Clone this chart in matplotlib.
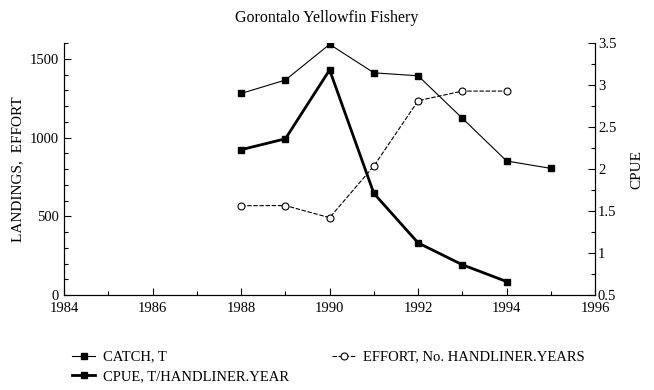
import matplotlib

matplotlib.use("agg")
import matplotlib.pyplot as plt
from matplotlib.ticker import MultipleLocator

plt.rcParams["font.family"] = ["Liberation Serif", "DejaVu Serif"]

# data
years = [1988, 1989, 1990, 1991, 1992, 1993, 1994, 1995]
catch_t = [1280, 1365, 1592, 1411, 1392, 1122, 851, 804]
effort_years = [1988, 1989, 1990, 1991, 1992, 1993, 1994]
effort = [567, 568, 491, 819, 1234, 1295, 1295]
cpue_years = [1988, 1989, 1990, 1991, 1992, 1993, 1994]
cpue = [2.23, 2.36, 3.18, 1.71, 1.12, 0.86, 0.66]

fig = plt.figure(figsize=(6.54, 3.90), dpi=100)
ax = fig.add_axes([0.098, 0.2436, 0.812, 0.646])
ax2 = ax.twinx()

l_catch, = ax.plot(years, catch_t, color="black", lw=0.8, marker="s",
                   markersize=5, markerfacecolor="black")
l_effort, = ax.plot(effort_years, effort, color="black", lw=0.8, ls=(0, (4, 1.5)),
                    marker="o", markersize=5, markerfacecolor="white",
                    markeredgewidth=0.8)
l_cpue, = ax2.plot(cpue_years, cpue, color="black", lw=2.0, marker="s",
                   markersize=5, markerfacecolor="black")

ax.set_xlim(1984, 1996)
ax.set_ylim(0, 1600)
ax2.set_ylim(0.5, 3.5)

ax.xaxis.set_major_locator(MultipleLocator(2))
ax.xaxis.set_minor_locator(MultipleLocator(1))
ax.yaxis.set_major_locator(MultipleLocator(500))
ax.yaxis.set_minor_locator(MultipleLocator(100))
ax2.yaxis.set_major_locator(MultipleLocator(0.5))
ax2.yaxis.set_minor_locator(MultipleLocator(0.25))
ax2.yaxis.set_major_formatter(plt.FuncFormatter(lambda v, p: f"{v:g}"))

for a in (ax, ax2):
    a.spines["top"].set_visible(False)
    a.tick_params(which="both", direction="in", labelsize=10.5, width=0.8)
    a.tick_params(which="major", length=5)
    a.tick_params(which="minor", length=3)
ax.tick_params(axis="x", pad=5)
ax2.tick_params(axis="y", pad=2)

ax.set_ylabel("LANDINGS,  EFFORT", fontsize=11, labelpad=4)
ax2.set_ylabel("CPUE", fontsize=11, labelpad=10)
fig.text(0.5, 0.955, "Gorontalo Yellowfin Fishery", ha="center", va="center",
         fontsize=11.5)

fig.legend([l_catch, l_cpue, l_effort],
           ["CATCH, T", "CPUE, T/HANDLINER.YEAR", "EFFORT, No. HANDLINER.YEARS"],
           ncol=2, loc="upper left", bbox_to_anchor=(0.09, 0.135),
           frameon=False, fontsize=10.5, handlelength=1.6, handletextpad=0.5,
           columnspacing=3.0, labelspacing=0.45)

fig.savefig("out.png", dpi=100)
